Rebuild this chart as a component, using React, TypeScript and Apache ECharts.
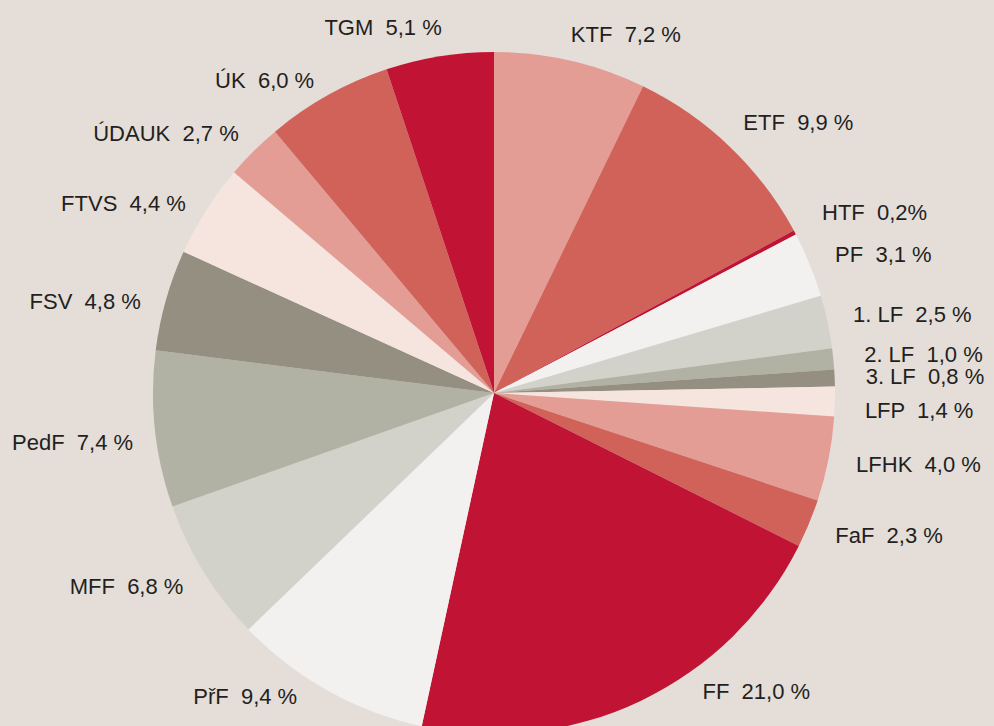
import React, { useEffect, useRef } from "react";
import * as echarts from "echarts";

const names = ["KTF", "ETF", "HTF", "PF", "1. LF", "2. LF", "3. LF", "LFP", "LFHK", "FaF", "FF", "PřF", "MFF", "PedF", "FSV", "FTVS", "ÚDAUK", "ÚK", "TGM"];
const values = [7.2, 9.9, 0.2, 3.1, 2.5, 1.0, 0.8, 1.4, 4.0, 2.3, 21.0, 9.4, 6.8, 7.4, 4.8, 4.4, 2.7, 6.0, 5.1];
const valueTexts = ["7,2 %", "9,9 %", "0,2%", "3,1 %", "2,5 %", "1,0 %", "0,8 %", "1,4 %", "4,0 %", "2,3 %", "21,0 %", "9,4 %", "6,8 %", "7,4 %", "4,8 %", "4,4 %", "2,7 %", "6,0 %", "5,1 %"];
const colors = ["#e49d94", "#d1625a", "#c11333", "#f2f1ef", "#d3d2ca", "#b1b1a4", "#948f80", "#f6e4df", "#e49d94", "#d1625a", "#c11333", "#f2f1ef", "#d3d2ca", "#b1b1a4", "#948f80", "#f6e4df", "#e49d94", "#d1625a", "#c11333"];

// label nudges [dx, dy] relative to ECharts' default outside position
const labelNudges: [number, number][] = [
  [-9, -3], [-7, -7], [2, -9], [-1, -1], [-2, -2], [3, -2], [3, 0], [2, 8], [0, 1], [0, 3],
  [47, -31], [-15, -15], [4, 2], [6, 11], [2, 8], [4, 6], [6, -1], [2, 6], [10, -5],
];

export default function App() {
  const ref = useRef<HTMLDivElement>(null);
  useEffect(() => {
    if (!ref.current) return;
    const chart = echarts.init(ref.current, null, { renderer: "svg" });
    chart.setOption({
      animation: false,
      backgroundColor: "#e4ddd8",
      series: [
        {
          type: "pie",
          center: [494, 393],
          radius: [0, 341],
          startAngle: 90,
          clockwise: true,
          avoidLabelOverlap: false,
          data: names.map((n, i) => ({
            name: n,
            value: values[i],
            itemStyle: { color: colors[i] },
          })),
          label: {
            show: true,
            position: "outside",
            formatter: (p: any) => `${p.name}  ${valueTexts[p.dataIndex]}`,
            fontFamily: "Liberation Sans, Arial, sans-serif",
            fontSize: 22,
            color: "#231f20",
            lineHeight: 20,
            distanceToLabelLine: 4,
          },
          labelLine: { show: false, length: 24, length2: 0 },
          labelLayout: (p: any) => {
            const n = labelNudges[p.dataIndex] || [0, 0];
            return { dx: n[0], dy: n[1] };
          },
          emphasis: { disabled: true },
        },
      ],
    });
    return () => chart.dispose();
  }, []);
  return <div ref={ref} style={{ position: "fixed", left: 0, top: 0, width: 994, height: 726 }} />;
}
